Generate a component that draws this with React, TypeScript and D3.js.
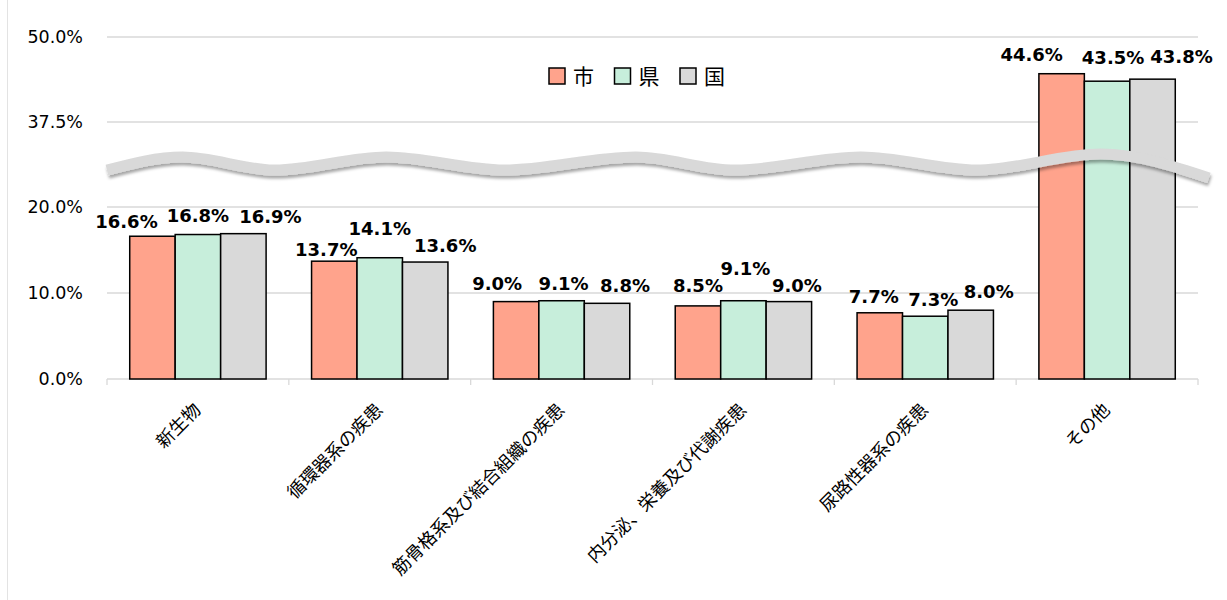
import React from "react";
import * as d3 from "d3";

// Chart data
const categories = [
    "新生物",
    "循環器系の疾患",
    "筋骨格系及び結合組織の疾患",
    "内分泌、栄養及び代謝疾患",
    "尿路性器系の疾患",
    "その他",
];
const seriesNames = ["市", "県", "国"];
const cityValues = [16.6, 13.7, 9.0, 8.5, 7.7, 44.6];
const prefValues = [16.8, 14.1, 9.1, 9.1, 7.3, 43.5];
const nationValues = [16.9, 13.6, 8.8, 9.0, 8.0, 43.8];
const tickValues = [0, 10, 20, 37.5, 50];
const tickLabels = ["0.0%", "10.0%", "20.0%", "37.5%", "50.0%"];

// Excel-style label nudges (dx from bar center, gap above bar top), per series.
const labelDx = [
    [-26, -8, -19, 0, -6, -30],
    [0, 0, 2, 2, 8, 6],
    [27, 20, 18, 8, 18, 29],
];
const labelGap = [
    [8, 5, 12, 14, 10, 13],
    [13, 23, 11, 26, 10, 17],
    [11, 10, 11, 10, 12, 16],
];

// Break mark: [fraction of plot width, value in the gap between 20% and 37.5%]
const waveX = [0, 0.069, 0.154, 0.256, 0.364, 0.485, 0.575, 0.691, 0.797, 0.911, 1.01];
const waveV = [27.6, 30.3, 27.6, 30.3, 27.6, 30.3, 27.6, 30.3, 27.6, 30.9, 26.0];

const colors = ["#FFA38C", "#C7EEDB", "#D9D9D9"];
const gridColor = "#D9D9D9";

const W = 1227;
const H = 600;
const left = 107;
const right = 1198;
const baseY = 379;

export default function App() {
    const values = [cityValues, prefValues, nationValues];

    const x = d3.scaleBand<string>().domain(categories).range([left, right]).padding(0);
    const xs = d3.scaleBand<string>().domain(seriesNames).range([0, x.bandwidth()])
        .paddingInner(0).paddingOuter(0.5);
    // broken axis: piecewise linear
    const y = d3.scaleLinear().domain([0, 20, 37.5, 50]).range([baseY, 207, 122, 37]);

    const waveLine = d3.line<number>()
        .x((d) => left + d * (right - left))
        .y((d, i) => y(waveV[i]))
        .curve(d3.curveMonotoneX);

    const numFont = "'DejaVu Sans', Verdana, sans-serif";
    const jpFont = "'Noto Sans CJK JP', sans-serif";

    return (
        <svg width={W} height={H} style={{ position: "absolute", left: 0, top: 0, background: "#fff" }}>
            <defs>
                <filter id="waveShadow" x="-5%" y="-50%" width="110%" height="200%">
                    <feDropShadow dx="1" dy="3" stdDeviation="1.5" floodColor="#000" floodOpacity="0.35" />
                </filter>
            </defs>

            <line x1={7.5} x2={7.5} y1={0} y2={H} stroke="#E3E3E3" strokeWidth={1} />

            {/* gridlines and y labels */}
            {tickValues.map((t, i) => (
                <g key={i}>
                    {t > 0 && (
                        <line x1={left} x2={right} y1={y(t)} y2={y(t)} stroke={gridColor} strokeWidth={1.3} />
                    )}
                    <text x={83} y={y(t)} dy="0.35em" textAnchor="end" fontFamily={numFont}
                        fontSize={17.5} fill="#000">{tickLabels[i]}</text>
                </g>
            ))}

            {/* category axis */}
            <line x1={left} x2={right} y1={baseY} y2={baseY} stroke={gridColor} strokeWidth={1.3} />
            {d3.range(categories.length + 1).map((i) => {
                const px = left + i * x.step();
                return <line key={i} x1={px} x2={px} y1={baseY} y2={baseY + 6} stroke={gridColor} strokeWidth={1.3} />;
            })}

            {/* bars */}
            {seriesNames.map((s, si) => (
                <g key={s}>
                    {categories.map((c, ci) => {
                        const v = values[si][ci];
                        return (
                            <rect key={c} x={(x(c) ?? 0) + (xs(s) ?? 0)} y={y(v)}
                                width={xs.bandwidth()} height={baseY - y(v)}
                                fill={colors[si]} stroke="#000" strokeWidth={1.5} />
                        );
                    })}
                </g>
            ))}

            {/* break mark */}
            <path d={waveLine(waveX) ?? ""} fill="none" stroke="#D9D9D9" strokeWidth={11}
                filter="url(#waveShadow)" />

            {/* data labels */}
            {seriesNames.map((s, si) => (
                <g key={s}>
                    {categories.map((c, ci) => {
                        const v = values[si][ci];
                        const cx = (x(c) ?? 0) + (xs(s) ?? 0) + xs.bandwidth() / 2;
                        return (
                            <text key={c} x={cx + labelDx[si][ci]} y={y(v) - labelGap[si][ci]}
                                textAnchor="middle" fontFamily={numFont} fontWeight="bold"
                                fontSize={18} fill="#000">{d3.format(".1f")(v)}%</text>
                        );
                    })}
                </g>
            ))}

            {/* category labels */}
            {categories.map((c) => {
                const cx = (x(c) ?? 0) + x.bandwidth() / 2;
                return (
                    <text key={c} transform={`translate(${cx + 4},${baseY + 32}) rotate(-45)`}
                        textAnchor="end" fontFamily={jpFont} fontSize={18} fill="#000">{c}</text>
                );
            })}

            {/* legend */}
            {seriesNames.map((s, si) => {
                const lx = 549 + si * 65.5;
                return (
                    <g key={s}>
                        <rect x={lx} y={68} width={16} height={16} fill={colors[si]} stroke="#000" strokeWidth={1.5} />
                        <text x={lx + 24} y={76} dy="0.36em" fontFamily={jpFont} fontSize={21} fill="#000">{s}</text>
                    </g>
                );
            })}
        </svg>
    );
}
